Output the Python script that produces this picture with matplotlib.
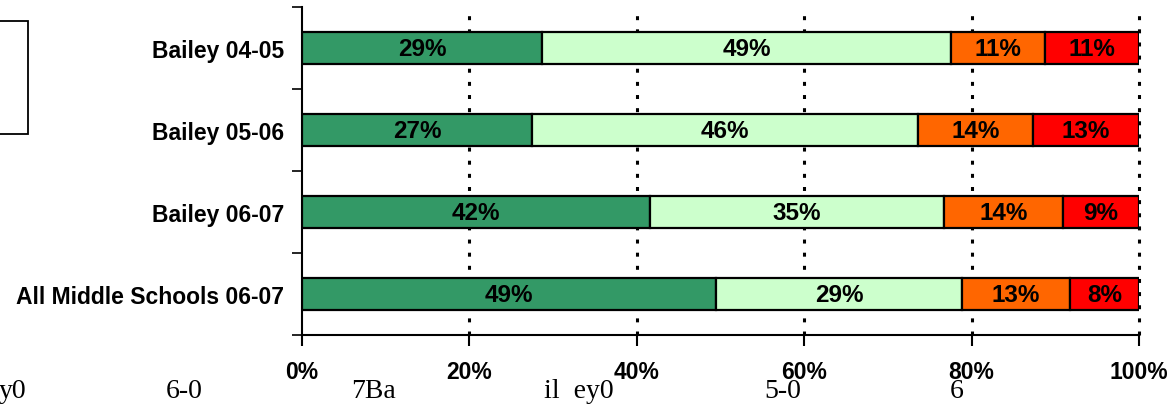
import matplotlib
matplotlib.use("Agg")
import matplotlib.pyplot as plt
import numpy as np
from matplotlib.patches import Rectangle

# categories, top to bottom
groups = ['Bailey 04-05', 'Bailey 05-06', 'Bailey 06-07', 'All Middle Schools 06-07']

# segment shares (%)
dark_green = [28.7, 27.5, 41.6, 49.5]
light_green = [48.8, 46.1, 35.1, 29.4]
orange = [11.3, 13.7, 14.2, 12.8]
red = [11.2, 12.7, 9.1, 8.3]

# printed labels
dark_green_lbl = ['29%', '27%', '42%', '49%']
light_green_lbl = ['49%', '46%', '35%', '29%']
orange_lbl = ['11%', '14%', '14%', '13%']
red_lbl = ['11%', '13%', '9%', '8%']

x_ticks = [0, 20, 40, 60, 80, 100]
x_tick_labels = ['0%', '20%', '40%', '60%', '80%', '100%']

# stray legend fragments below the plot
stray_text = ['y0', '6-0', '7Ba', 'il  ey0', '5-0', '6']
stray_x = [-1, 166, 351, 544, 764, 950]

series = [
    (dark_green, dark_green_lbl, '#339966'),
    (light_green, light_green_lbl, '#CCFFCC'),
    (orange, orange_lbl, '#FF6600'),
    (red, red_lbl, '#FF0000'),
]

plt.rcParams['font.family'] = ['Liberation Sans', 'DejaVu Sans']

W, H = 1176, 406
fig = plt.figure(figsize=(W / 100, H / 100), dpi=100)
ax = fig.add_axes([302 / W, 1 - 336 / H, 837 / W, 328 / H])

y = np.arange(len(groups))
left = np.zeros(len(groups))
for vals, lbls, col in series:
    vals = np.array(vals)
    ax.barh(y, vals, left=left, height=0.40, color=col, edgecolor='black',
            linewidth=1.6, zorder=3)
    for yi, l, v, t in zip(y, left, vals, lbls):
        ax.text(l + v / 2, yi + 0.01, t, ha='center', va='center', fontsize=17.5,
                fontweight='bold', zorder=4)
    left = left + vals

ax.set_xlim(0, 100)
ax.set_ylim(len(groups) - 0.5, -0.5)

for xv in x_ticks[1:]:
    ax.axvline(xv, color='black', linewidth=2.2, linestyle=(0, (1.3, 3.0)),
               zorder=1, clip_on=False)

ax.set_xticks(x_ticks)
ax.set_xticklabels(x_tick_labels, fontsize=16.5, fontweight='bold')
ax.tick_params(axis='x', direction='out', length=8, width=1.5, pad=10)

ax.set_yticks(y)
ax.set_yticklabels(groups, fontsize=16.5, fontweight='bold')
ax.tick_params(axis='y', which='major', length=0, pad=13)
ax.set_yticks(np.arange(len(groups) + 1) - 0.5, minor=True)
ax.tick_params(axis='y', which='minor', direction='out', length=7, width=1.2)

ax.spines['top'].set_visible(False)
ax.spines['right'].set_visible(False)
ax.spines['left'].set_linewidth(1.5)
ax.spines['bottom'].set_linewidth(1.5)

# clipped legend box at the far left
fig.add_artist(Rectangle((-20 / W, 1 - 135 / H), 48 / W, 113 / H,
                         transform=fig.transFigure, fill=False,
                         edgecolor='black', linewidth=1.3, clip_on=False))

for t, xp in zip(stray_text, stray_x):
    fig.text(xp / W, 1 - 398 / H, t, ha='left', va='baseline',
             fontsize=20, family='Liberation Serif')

fig.savefig('out.png', dpi=100)
